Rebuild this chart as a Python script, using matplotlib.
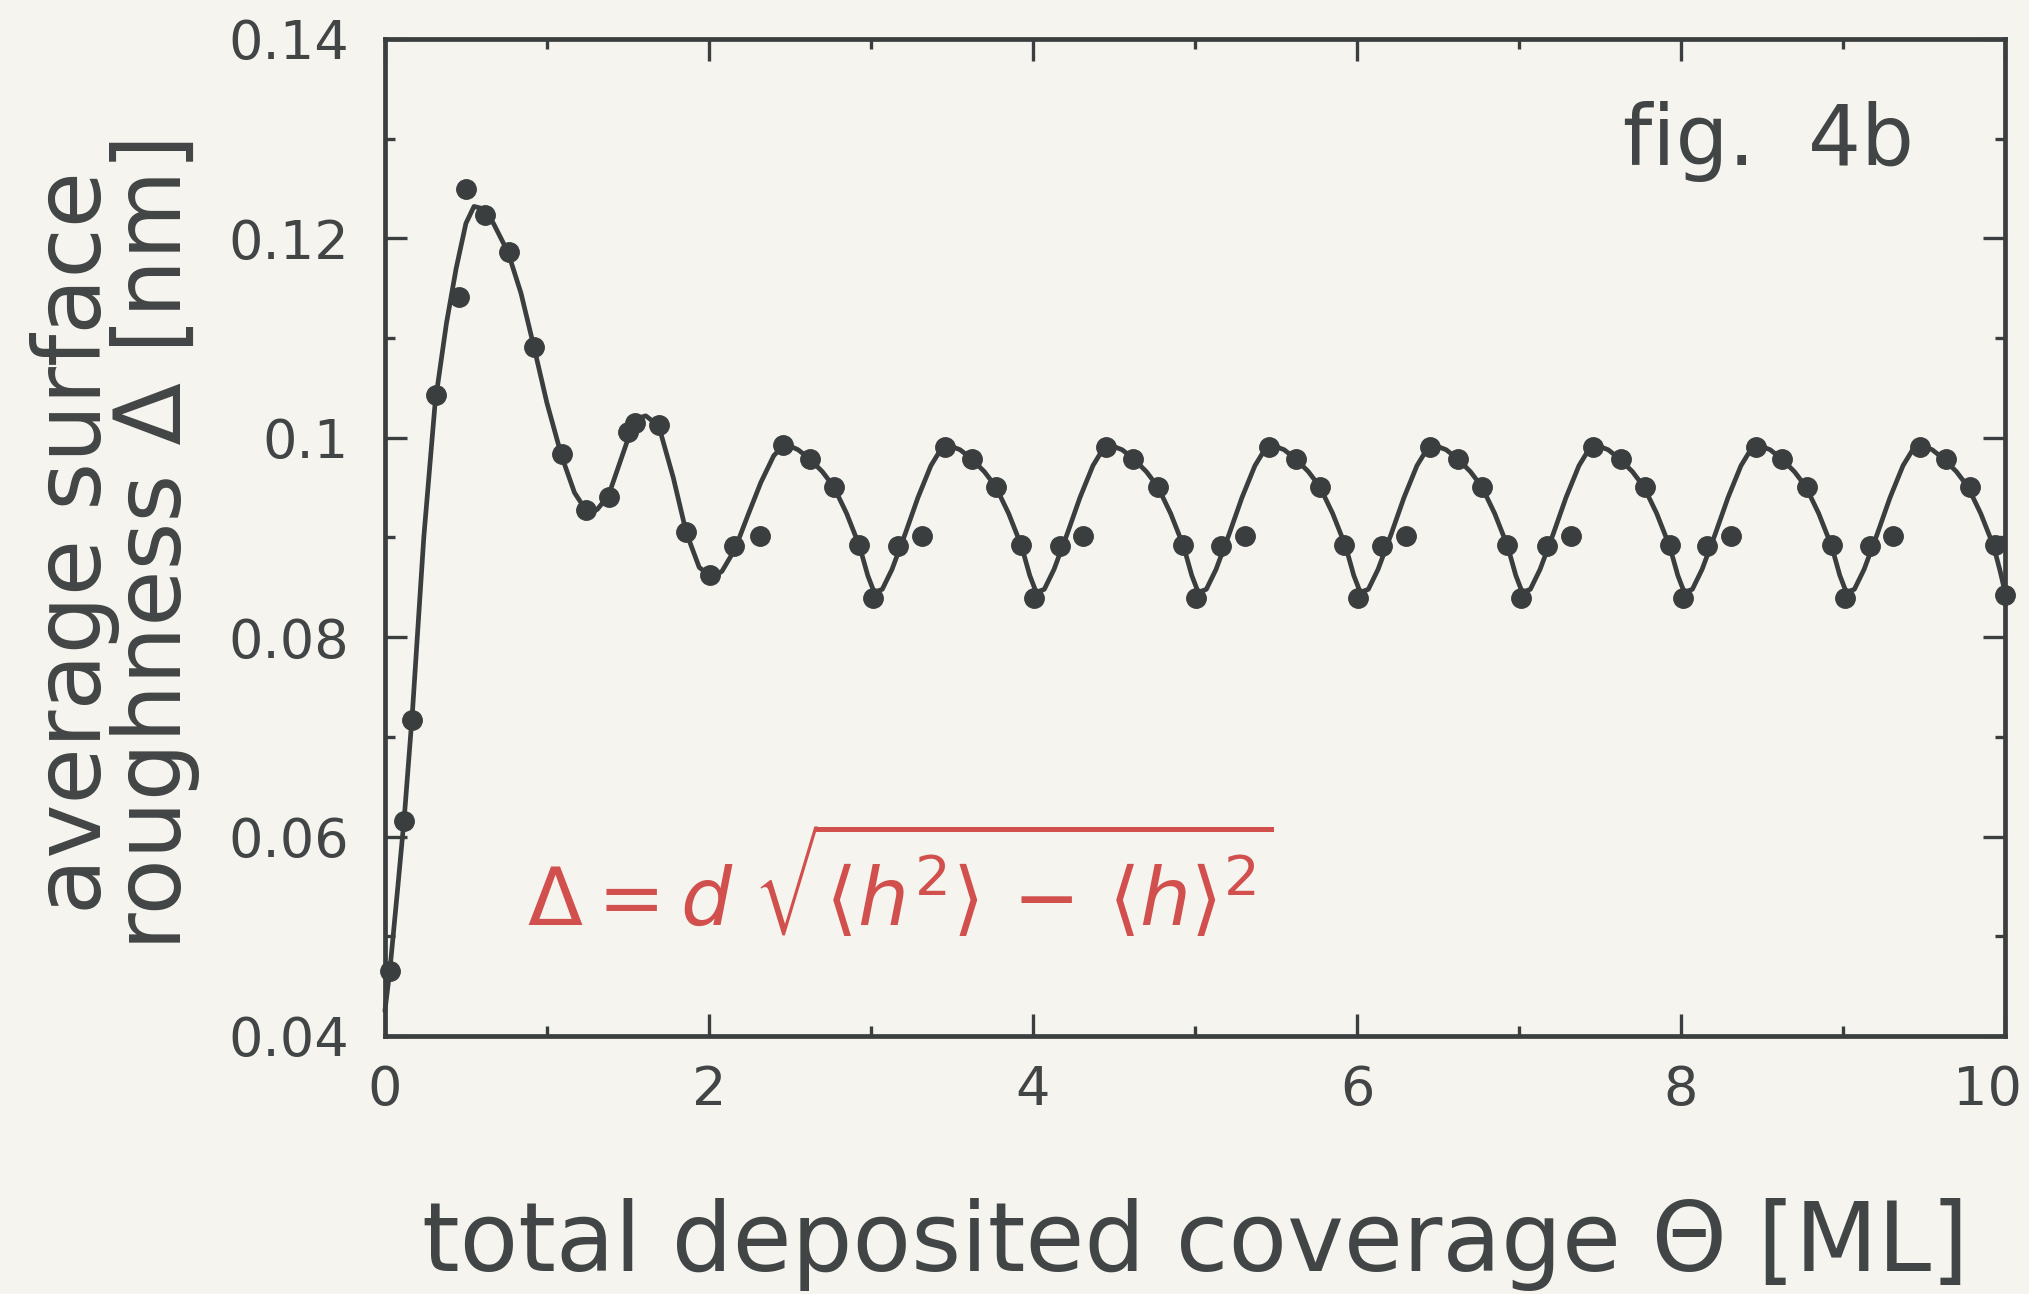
import matplotlib.pyplot as plt
from matplotlib.ticker import MultipleLocator, FixedLocator, FixedFormatter
from matplotlib.transforms import ScaledTranslation

# measured points (coverage in ML, roughness in nm)
pts_x = [0.03, 0.12, 0.17, 0.313, 0.459, 0.50, 0.617, 0.765, 0.92, 1.091,
         1.241, 1.383, 1.502, 1.543, 1.693, 1.858, 2.006, 2.156, 2.315, 2.459,
         2.621, 2.774, 2.928, 3.011, 3.164, 3.313, 3.459,
         3.625, 3.771, 3.927, 4.007, 4.164, 4.310, 4.452,
         4.617, 4.770, 4.924, 5.007, 5.160, 5.307, 5.456,
         5.621, 5.770, 5.921, 6.006, 6.157, 6.304, 6.451,
         6.625, 6.772, 6.925, 7.012, 7.173, 7.320, 7.459,
         7.628, 7.775, 7.930, 8.015, 8.162, 8.309, 8.462,
         8.625, 8.777, 8.930, 9.012, 9.165, 9.311, 9.472,
         9.633, 9.785, 9.935, 10.0]
pts_y = [0.0465, 0.0616, 0.0717, 0.1043, 0.1141, 0.1250, 0.1223, 0.1186, 0.1091, 0.0984,
         0.0928, 0.0941, 0.1006, 0.1015, 0.1013, 0.0905, 0.0862, 0.0891, 0.0901, 0.0993,
         0.0979, 0.0951, 0.0892, 0.0839, 0.0891, 0.0901, 0.0991,
         0.0979, 0.0951, 0.0892, 0.0839, 0.0891, 0.0901, 0.0991,
         0.0979, 0.0951, 0.0892, 0.0839, 0.0891, 0.0901, 0.0991,
         0.0979, 0.0951, 0.0892, 0.0839, 0.0891, 0.0901, 0.0991,
         0.0979, 0.0951, 0.0892, 0.0839, 0.0891, 0.0901, 0.0991,
         0.0979, 0.0951, 0.0892, 0.0839, 0.0891, 0.0901, 0.0991,
         0.0979, 0.0951, 0.0892, 0.0839, 0.0891, 0.0901, 0.0991,
         0.0979, 0.0951, 0.0892, 0.0842]

# smooth fit curve
curve_x = [0.00, 0.03, 0.08, 0.12, 0.17, 0.24, 0.31, 0.38, 0.44, 0.50,
           0.55, 0.60, 0.67, 0.76, 0.84, 0.92, 1.00, 1.09, 1.17, 1.25,
           1.31, 1.38, 1.45, 1.52, 1.57, 1.61, 1.69, 1.78, 1.86, 1.94,
           2.02, 2.08, 2.16, 2.24, 2.32, 2.40, 2.47,
           2.55, 2.62, 2.70, 2.77, 2.85, 2.93, 2.98, 3.02, 3.07, 3.13, 3.21, 3.29, 3.37, 3.43, 3.47,
           3.55, 3.62, 3.70, 3.77, 3.85, 3.93, 3.98, 4.02, 4.07, 4.13, 4.21, 4.29, 4.37, 4.43, 4.47,
           4.55, 4.62, 4.70, 4.77, 4.85, 4.93, 4.98, 5.02, 5.07, 5.13, 5.21, 5.29, 5.37, 5.43, 5.47,
           5.55, 5.62, 5.70, 5.77, 5.85, 5.93, 5.98, 6.02, 6.07, 6.13, 6.21, 6.29, 6.37, 6.43, 6.47,
           6.55, 6.62, 6.70, 6.77, 6.85, 6.93, 6.98, 7.02, 7.07, 7.13, 7.21, 7.29, 7.37, 7.43, 7.47,
           7.55, 7.62, 7.70, 7.77, 7.85, 7.93, 7.98, 8.02, 8.07, 8.13, 8.21, 8.29, 8.37, 8.43, 8.47,
           8.55, 8.62, 8.70, 8.77, 8.85, 8.93, 8.98, 9.02, 9.07, 9.13, 9.21, 9.29, 9.37, 9.43, 9.47,
           9.55, 9.62, 9.70, 9.77, 9.85, 9.93, 9.97, 10.0]
curve_y = [0.0425, 0.0465, 0.0550, 0.0620, 0.0725, 0.0900, 0.1035, 0.1115, 0.1170, 0.1215,
           0.1232, 0.1230, 0.1215, 0.1186, 0.1145, 0.1091, 0.1035, 0.0982, 0.0945, 0.0925,
           0.0928, 0.0942, 0.0975, 0.1008, 0.1020, 0.1022, 0.1012, 0.0960, 0.0905, 0.0870,
           0.0860, 0.0866, 0.0888, 0.0922, 0.0955, 0.0982, 0.0994,
           0.0988, 0.0979, 0.0966, 0.0951, 0.0924, 0.0891, 0.0862, 0.0845, 0.0848, 0.0868, 0.0903, 0.0940, 0.0972, 0.0988, 0.0993,
           0.0988, 0.0979, 0.0966, 0.0951, 0.0924, 0.0891, 0.0862, 0.0845, 0.0848, 0.0868, 0.0903, 0.0940, 0.0972, 0.0988, 0.0993,
           0.0988, 0.0979, 0.0966, 0.0951, 0.0924, 0.0891, 0.0862, 0.0845, 0.0848, 0.0868, 0.0903, 0.0940, 0.0972, 0.0988, 0.0993,
           0.0988, 0.0979, 0.0966, 0.0951, 0.0924, 0.0891, 0.0862, 0.0845, 0.0848, 0.0868, 0.0903, 0.0940, 0.0972, 0.0988, 0.0993,
           0.0988, 0.0979, 0.0966, 0.0951, 0.0924, 0.0891, 0.0862, 0.0845, 0.0848, 0.0868, 0.0903, 0.0940, 0.0972, 0.0988, 0.0993,
           0.0988, 0.0979, 0.0966, 0.0951, 0.0924, 0.0891, 0.0862, 0.0845, 0.0848, 0.0868, 0.0903, 0.0940, 0.0972, 0.0988, 0.0993,
           0.0988, 0.0979, 0.0966, 0.0951, 0.0924, 0.0891, 0.0862, 0.0845, 0.0848, 0.0868, 0.0903, 0.0940, 0.0972, 0.0988, 0.0993,
           0.0988, 0.0979, 0.0966, 0.0951, 0.0924, 0.0891, 0.0866, 0.0845]

x_ticks = [0, 2, 4, 6, 8, 10]
y_ticks = [0.04, 0.06, 0.08, 0.10, 0.12, 0.14]
y_tick_labels = ["0.04", "0.06", "0.08", "0.1", "0.12", "0.14"]

paper = "#f5f4ef"
ink = "#3b3e3e"
txt = "#424545"
red = "#d1504d"

fig = plt.figure(figsize=(20.29, 12.94), dpi=100, facecolor=paper)
ax = fig.add_axes([0.1897, 0.1994, 0.7985, 0.7705], facecolor=paper)

ax.plot(curve_x, curve_y, color=ink, lw=3.4, solid_capstyle="round",
        solid_joinstyle="round", clip_on=False)
ax.plot(pts_x, pts_y, "o", color=ink, ms=14, clip_on=False, zorder=3)

ax.set_xlim(0, 10)
ax.set_ylim(0.04, 0.14)
ax.xaxis.set_major_locator(FixedLocator(x_ticks))
ax.xaxis.set_minor_locator(MultipleLocator(1))
ax.yaxis.set_major_locator(FixedLocator(y_ticks))
ax.yaxis.set_major_formatter(FixedFormatter(y_tick_labels))
ax.yaxis.set_minor_locator(MultipleLocator(0.01))

for s in ax.spines.values():
    s.set_linewidth(3.4)
    s.set_color(ink)
ax.tick_params(which="both", direction="in", top=True, right=True, color=ink, width=2.4)
ax.tick_params(which="major", length=16)
ax.tick_params(which="minor", length=7.5)
ax.tick_params(axis="x", which="major", labelsize=39, pad=20, labelcolor=txt)
ax.tick_params(axis="y", which="major", labelsize=39, pad=26, labelcolor=txt)

# last x label sits a little inside the right edge, as in the scan
last = ax.get_xticklabels()[-1]
last.set_transform(last.get_transform() + ScaledTranslation(-0.18, 0, fig.dpi_scale_trans))

fig.text(0.5890, 0.038, "total deposited coverage \u0398 [ML]", fontsize=69,
         color=txt, ha="center", va="center")
fig.text(0.0567, 0.581, "average surface\nroughness \u0394 [nm]", fontsize=66,
         color=txt, ha="center", va="center", rotation=90,
         multialignment="center", linespacing=0.86)

ax.text(0.854, 0.897, "fig.  4b", transform=ax.transAxes, fontsize=60,
        color=txt, ha="center", va="center")

ax.text(0.88, 0.0553, r"$\Delta = d\;\sqrt{\langle h^2\rangle\,-\,\langle h\rangle^2}$",
        fontsize=58, color=red, ha="left", va="center")

fig.savefig("out.png", dpi=100, facecolor=paper)
